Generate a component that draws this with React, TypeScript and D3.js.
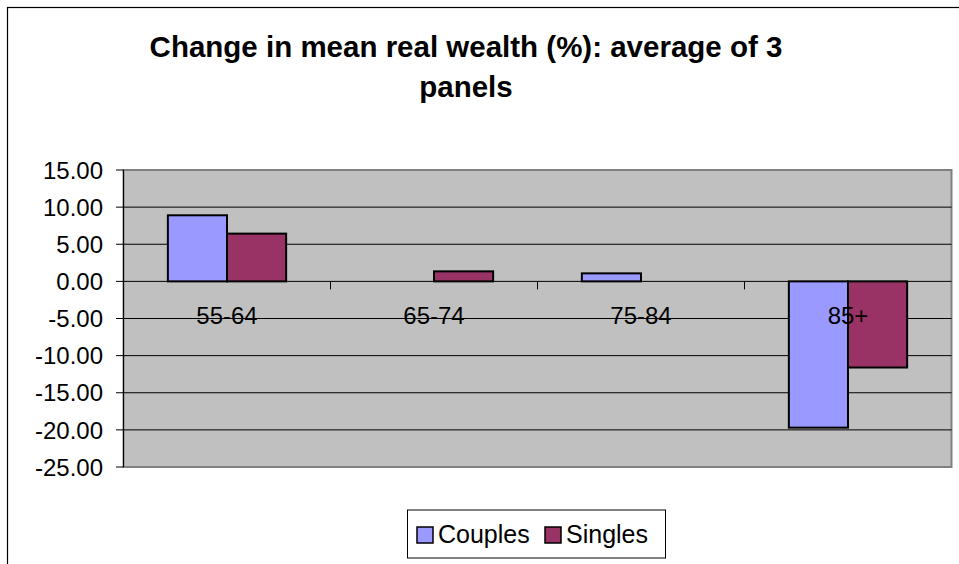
import * as d3 from 'd3';

const categories = ['55-64', '65-74', '75-84', '85+'];
const seriesNames = ['Couples', 'Singles'];
const couples = [8.9, 0, 1.08, -19.7];
const singles = [6.43, 1.35, 0, -11.6];
const yTicks = [15, 10, 5, 0, -5, -10, -15, -20, -25];

const W = 959;
const H = 564;
const plot = { left: 123.5, right: 951.5, top: 170, bottom: 467 };
const colors = ['#9999FF', '#993366'];
const font = '"Liberation Sans", Arial, sans-serif';

export default function App() {
  const x = d3
    .scaleBand<string>()
    .domain(categories)
    .range([plot.left, plot.right])
    .paddingInner(0)
    .paddingOuter(0);
  const y = d3.scaleLinear().domain([-25, 15]).range([plot.bottom, plot.top]);

  const cw = x.bandwidth();
  const barW = cw / 3.5;
  const groupOffset = (cw - 2 * barW) / 2;
  const series = [couples, singles];

  return (
    <svg
      width={W}
      height={H}
      style={{ position: 'absolute', left: 0, top: 0, background: '#fff' }}
      fontFamily={font}
    >
      <rect x={7.5} y={7.5} width={W + 10} height={H + 10} fill="#fff" stroke="#000" strokeWidth={1.2} />

      <text x={466} y={57} textAnchor="middle" fontSize={29.5} fontWeight="bold">
        Change in mean real wealth (%): average of 3
      </text>
      <text x={466} y={97} textAnchor="middle" fontSize={29.5} fontWeight="bold">
        panels
      </text>

      <rect
        x={plot.left}
        y={plot.top}
        width={plot.right - plot.left}
        height={plot.bottom - plot.top}
        fill="#C0C0C0"
        stroke="#808080"
        strokeWidth={2}
      />

      {yTicks.map(t => (
        <g key={t}>
          {t !== 15 && t !== -25 && (
            <line x1={plot.left} x2={plot.right} y1={y(t)} y2={y(t)} stroke="#000" strokeWidth={1} />
          )}
          <line x1={116} x2={plot.left} y1={y(t)} y2={y(t)} stroke="#000" strokeWidth={1} />
          <text x={103} y={y(t)} dy="0.36em" textAnchor="end" fontSize={24}>
            {t.toFixed(2)}
          </text>
        </g>
      ))}
      <line x1={plot.left} x2={plot.left} y1={plot.top} y2={plot.bottom} stroke="#000" strokeWidth={1} />

      {categories.slice(1).map(c => (
        <line key={c} x1={x(c)} x2={x(c)} y1={y(0)} y2={y(0) + 8} stroke="#000" strokeWidth={1} />
      ))}

      {categories.map((c, i) => (
        <g key={c}>
          {series.map((s, j) => {
            const v = s[i];
            if (v === 0) return null;
            const x0 = (x(c) as number) + groupOffset + j * barW;
            return (
              <rect
                key={j}
                x={x0}
                y={Math.min(y(v), y(0))}
                width={barW}
                height={Math.abs(y(v) - y(0))}
                fill={colors[j]}
                stroke="#000"
                strokeWidth={2}
              />
            );
          })}
        </g>
      ))}

      {categories.map(c => (
        <text
          key={c}
          x={(x(c) as number) + cw / 2}
          y={y(0) + 43}
          textAnchor="middle"
          fontSize={24}
        >
          {c}
        </text>
      ))}

      <g>
        <rect x={407.5} y={510} width={258} height={48} fill="#fff" stroke="#000" strokeWidth={1} />
        {seriesNames.map((n, j) => {
          const lx = j === 0 ? 417 : 545;
          return (
            <g key={n}>
              <rect x={lx} y={527} width={16} height={16} fill={colors[j]} stroke="#000" strokeWidth={1.5} />
              <text x={lx + 21} y={543} fontSize={25}>
                {n}
              </text>
            </g>
          );
        })}
      </g>
    </svg>
  );
}
